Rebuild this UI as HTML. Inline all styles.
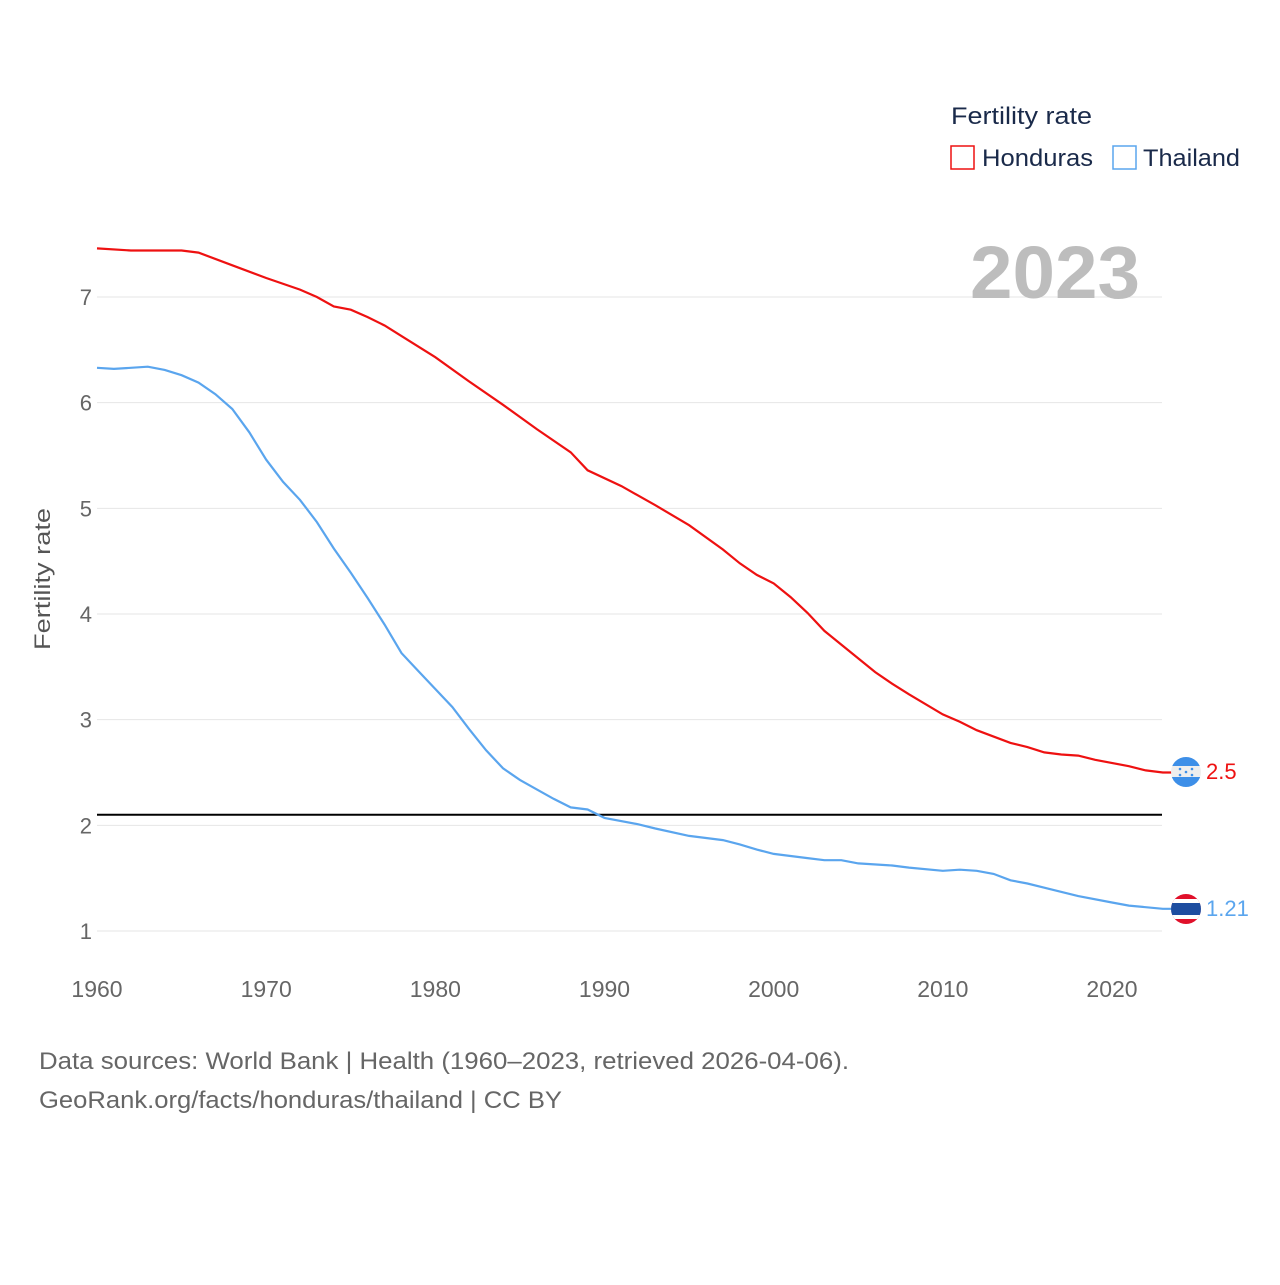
<!DOCTYPE html>
<html><head><meta charset="utf-8"><style>
body{margin:0;background:#fff;font-family:"Liberation Sans",sans-serif}
svg text{font-family:"Liberation Sans",sans-serif}
</style></head><body>
<svg id="chart" width="1280" height="1280" viewBox="0 0 1280 1280" xmlns="http://www.w3.org/2000/svg">
<defs>
<clipPath id="c1"><circle cx="1186" cy="772" r="15"/></clipPath>
<clipPath id="c2"><circle cx="1186" cy="909" r="15"/></clipPath>
</defs>
<g id="grid"></g>
<g id="yticks"></g>
<g id="xticks"></g>
<text transform="translate(50,579) rotate(-90)" text-anchor="middle" font-size="22" fill="#555" textLength="142" lengthAdjust="spacingAndGlyphs">Fertility rate</text>
<text x="1140" y="298" text-anchor="end" font-size="74" font-weight="bold" fill="#bdbdbd" textLength="170" lengthAdjust="spacingAndGlyphs">2023</text>
<line id="repl" stroke="#000" stroke-width="2"/>
<path id="hon" fill="none" stroke="#ee1111" stroke-width="2.2"/>
<path id="tha" fill="none" stroke="#5aa5ee" stroke-width="2.2"/>
<g clip-path="url(#c1)">
<rect x="1170" y="756" width="32" height="32" fill="#eee"/>
<rect x="1170" y="756" width="32" height="10" fill="#3d8fe8"/>
<rect x="1170" y="777" width="32" height="11" fill="#3d8fe8"/>
<circle cx="1180" cy="769" r="1.3" fill="#3d8fe8"/><circle cx="1192" cy="769" r="1.3" fill="#3d8fe8"/><circle cx="1186" cy="772" r="1.3" fill="#3d8fe8"/><circle cx="1180" cy="775" r="1.3" fill="#3d8fe8"/><circle cx="1192" cy="775" r="1.3" fill="#3d8fe8"/>
</g>
<g clip-path="url(#c2)">
<rect x="1170" y="893" width="32" height="32" fill="#e0102a"/>
<rect x="1170" y="899" width="32" height="20" fill="#fff"/>
<rect x="1170" y="903" width="32" height="12" fill="#1e4da0"/>
</g>
<text x="1206" y="779" font-size="22" fill="#ee1111">2.5</text>
<text x="1206" y="916" font-size="22" fill="#5aa5ee">1.21</text>
<g>
<text x="951" y="124" font-size="24" fill="#1a2a4a" textLength="141" lengthAdjust="spacingAndGlyphs">Fertility rate</text>
<rect x="951" y="146" width="23" height="23" fill="none" stroke="#ee1111" stroke-width="1.5"/>
<text x="982" y="166" font-size="24" fill="#1a2a4a" textLength="111" lengthAdjust="spacingAndGlyphs">Honduras</text>
<rect x="1113" y="146" width="23" height="23" fill="none" stroke="#5aa5ee" stroke-width="1.5"/>
<text x="1143" y="166" font-size="24" fill="#1a2a4a" textLength="97" lengthAdjust="spacingAndGlyphs">Thailand</text>
</g>
<text x="39" y="1069" font-size="24" fill="#666" textLength="810" lengthAdjust="spacingAndGlyphs">Data sources: World Bank | Health (1960–2023, retrieved 2026-04-06).</text>
<text x="39" y="1108" font-size="24" fill="#666" textLength="523" lengthAdjust="spacingAndGlyphs">GeoRank.org/facts/honduras/thailand | CC BY</text>
</svg>
<script>
const yTicks=[1,2,3,4,5,6,7];
const xTicks=[1960,1970,1980,1990,2000,2010,2020];
const replacementRate=2.1;
const honYears=[1960,1962,1965,1966,1968,1970,1972,1973,1974,1975,1976,1977,1978,1980,1982,1984,1986,1988,1989,1991,1993,1995,1997,1998,1999,2000,2001,2002,2003,2004,2006,2007,2008,2010,2011,2012,2014,2015,2016,2017,2018,2019,2021,2022,2023];
const honValues=[7.46,7.44,7.44,7.42,7.30,7.18,7.07,7.0,6.91,6.88,6.81,6.73,6.63,6.43,6.20,5.98,5.75,5.53,5.36,5.21,5.03,4.84,4.61,4.48,4.37,4.29,4.16,4.01,3.84,3.71,3.45,3.34,3.24,3.05,2.98,2.90,2.78,2.74,2.69,2.67,2.66,2.62,2.56,2.52,2.50];
const thaYears=[1960,1961,1963,1964,1965,1966,1967,1968,1969,1970,1971,1972,1973,1974,1975,1976,1977,1978,1979,1980,1981,1982,1983,1984,1985,1986,1987,1988,1989,1990,1992,1993,1995,1997,1998,1999,2000,2002,2003,2004,2005,2007,2008,2010,2011,2012,2013,2014,2015,2016,2018,2020,2021,2023];
const thaValues=[6.33,6.32,6.34,6.31,6.26,6.19,6.08,5.94,5.72,5.46,5.25,5.08,4.87,4.62,4.39,4.15,3.90,3.63,3.46,3.29,3.12,2.91,2.71,2.54,2.43,2.34,2.25,2.17,2.15,2.07,2.01,1.97,1.90,1.86,1.82,1.77,1.73,1.69,1.67,1.67,1.64,1.62,1.60,1.57,1.58,1.57,1.54,1.48,1.45,1.41,1.33,1.27,1.24,1.21];
const X0=97,X1=1162;
const xs=y=>X0+(y-1960)*(1112-97)/60;
const ys=v=>931-(v-1)*(931-297)/6;
const NS='http://www.w3.org/2000/svg';
const grid=document.getElementById('grid'),yt=document.getElementById('yticks'),xt=document.getElementById('xticks');
yTicks.forEach(v=>{
 const l=document.createElementNS(NS,'line');
 
 
 l.setAttribute('x1',X0);l.setAttribute('x2',X1);l.setAttribute('y1',ys(v));l.setAttribute('y2',ys(v));
 l.setAttribute('stroke','#e6e6e6');l.setAttribute('stroke-width','1');grid.appendChild(l);
 const t=document.createElementNS(NS,'text');
 
 
 t.setAttribute('x',92);t.setAttribute('y',ys(v)+8);t.setAttribute('text-anchor','end');
 t.setAttribute('font-size','22');t.setAttribute('fill','#666');t.textContent=v;yt.appendChild(t);
});
xTicks.forEach(v=>{
 const t=document.createElementNS(NS,'text');
 
 
 t.setAttribute('x',xs(v));t.setAttribute('y',997);t.setAttribute('text-anchor','middle');
 t.setAttribute('font-size','23');t.setAttribute('fill','#666');t.textContent=v;xt.appendChild(t);
});
const r=document.getElementById('repl');
r.setAttribute('x1',X0);r.setAttribute('x2',X1);r.setAttribute('y1',ys(replacementRate));r.setAttribute('y2',ys(replacementRate));
const path=(yr,vals)=>yr.map((y,i)=>(i?'L':'M')+xs(y).toFixed(1)+','+ys(vals[i]).toFixed(1)).join('');
document.getElementById('hon').setAttribute('d',path(honYears,honValues)+'L1172,'+ys(honValues[honValues.length-1]).toFixed(1));
document.getElementById('tha').setAttribute('d',path(thaYears,thaValues)+'L1172,'+ys(thaValues[thaValues.length-1]).toFixed(1));
</script>
</body></html>
